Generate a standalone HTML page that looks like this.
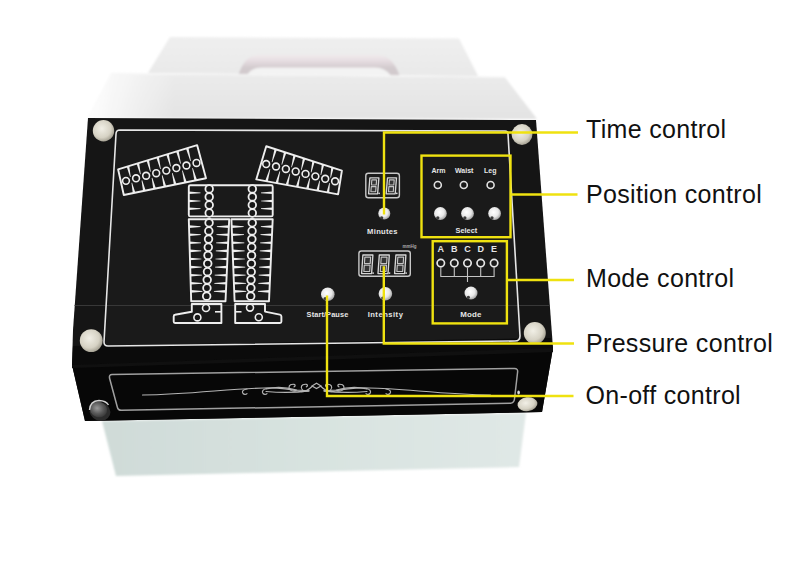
<!DOCTYPE html>
<html><head><meta charset="utf-8">
<style>
html,body{margin:0;padding:0;background:#fff;width:800px;height:561px;overflow:hidden}
svg{display:block}
text{font-family:"Liberation Sans",sans-serif}
</style></head>
<body>
<svg width="800" height="561" viewBox="0 0 800 561">
<defs>
  <linearGradient id="backg" x1="0" y1="0" x2="0" y2="1">
    <stop offset="0" stop-color="#efefef"/><stop offset="1" stop-color="#e9e9e9"/>
  </linearGradient>
  <linearGradient id="frontg" x1="0" y1="0" x2="0" y2="1">
    <stop offset="0" stop-color="#ebebeb"/><stop offset="1" stop-color="#e3e3e3"/>
  </linearGradient>
  <linearGradient id="lowg" x1="0" y1="0" x2="1" y2="0">
    <stop offset="0" stop-color="#cfdbd8"/><stop offset="0.5" stop-color="#d8e3e0"/><stop offset="1" stop-color="#e0e8e6"/>
  </linearGradient>
  <radialGradient id="screw" cx="0.42" cy="0.4" r="0.65">
    <stop offset="0" stop-color="#f1efe6"/><stop offset="0.65" stop-color="#d6d2c4"/><stop offset="1" stop-color="#9c988a"/>
  </radialGradient>
  <radialGradient id="knob" cx="0.42" cy="0.4" r="0.62">
    <stop offset="0" stop-color="#ffffff"/><stop offset="0.6" stop-color="#e8e8e8"/><stop offset="1" stop-color="#a0a0a0"/>
  </radialGradient>
  <radialGradient id="knob2" cx="0.4" cy="0.45" r="0.65">
    <stop offset="0" stop-color="#9a9a9a"/><stop offset="0.55" stop-color="#5a5a5a"/><stop offset="1" stop-color="#333"/>
  </radialGradient>
  <filter id="soft" x="-5%" y="-20%" width="110%" height="140%"><feGaussianBlur stdDeviation="0.8"/></filter>
  <filter id="soft3" x="-20%" y="-20%" width="140%" height="140%"><feGaussianBlur stdDeviation="3"/></filter>
  <linearGradient id="fadeL" gradientUnits="userSpaceOnUse" x1="92" y1="0" x2="175" y2="0">
    <stop offset="0" stop-color="#fff" stop-opacity="0.9"/><stop offset="0.5" stop-color="#fff" stop-opacity="0.45"/><stop offset="1" stop-color="#fff" stop-opacity="0"/>
  </linearGradient>
  <clipPath id="frontclip"><polygon points="111,74 505,77.5 537,119 88,118"/></clipPath>
  <linearGradient id="handleg" gradientUnits="userSpaceOnUse" x1="0" y1="55" x2="0" y2="68">
    <stop offset="0" stop-color="#f0eaec"/><stop offset="0.45" stop-color="#e6dde1"/><stop offset="1" stop-color="#d2cacd"/>
  </linearGradient>
</defs>

<g filter="url(#soft)">
<polygon points="170,37 459,38.5 478,76 148,73" fill="url(#backg)"/>
<path d="M247,75.5 Q251,67.5 262,67 L375,67 Q385,67.5 391,75.5 Z" fill="#f3f3f3"/>
<path d="M238.5,75 Q244,56.5 257,55 L379,55 Q393,56.5 399.5,75.5 L391,75.5 Q385,67.5 375,67.5 L262,67.5 Q251,67.5 247,75 Z" fill="url(#handleg)"/>
<polygon points="111,74 505,77.5 537,119 88,118" fill="url(#frontg)"/>
<line x1="111" y1="73.5" x2="505" y2="77" stroke="#f6f6f6" stroke-width="1.2"/>
<rect x="80" y="60" width="110" height="62" fill="url(#fadeL)" clip-path="url(#frontclip)"/>
</g>
<polygon points="102,421 526,413 519,467 116,476" fill="url(#lowg)" filter="url(#soft)"/>

<polygon points="88,118 536,120 553,348 542,412 85,421 72,365 73,330" fill="#151515"/>
<polygon points="117,131 507,131.5 520,340 105,346" fill="#1a1a1a"/>
<polygon points="72,365 553,348 542,412 85,421" fill="#070707"/>
<polygon points="73,346 551,338 553,348 72,365" fill="#0b0b0b"/>
<polygon points="72,365 553,348 553,352 72,368" fill="#101010"/>
<line x1="74.5" y1="305.5" x2="549" y2="305.5" stroke="#3c3c3c" stroke-width="0.9"/>
<path d="M120,130 L505,131 Q508,131 508,134 L520,336 Q520,341 515,341 L108,346 Q104,346 104,342 L116,134 Q116,130 120,130 Z" fill="none" stroke="#e6e6e6" stroke-width="1.6"/>
<path d="M112,374.5 L514.5,368.5 Q518,368.5 517.6,372 L514.5,399 Q514,403 510.5,403.2 L121.5,410.3 Q118,410.3 117.3,407 L109.5,378 Q109,374.5 112,374.5 Z" fill="none" stroke="#a0a0a0" stroke-width="1.5"/>

<polygon points="118.1,169.3 197.1,145.1 206,178.2 123.8,195" fill="none" stroke="#eeeeee" stroke-width="1.9" stroke-linejoin="round"/>
<polygon points="126.72,166.66 129.23,165.89 130.73,176.84 130.1,177.01" fill="#eeeeee"/>
<polygon points="132.77,193.17 135.38,192.63 132.08,182.7 131.44,182.86" fill="#eeeeee"/>
<polygon points="136.6,163.63 139.1,162.87 140.77,174.19 140.13,174.35" fill="#eeeeee"/>
<polygon points="143.05,191.07 145.65,190.53 142.2,180.25 141.56,180.41" fill="#eeeeee"/>
<polygon points="146.47,160.61 148.98,159.84 150.8,171.53 150.17,171.7" fill="#eeeeee"/>
<polygon points="153.32,188.97 155.93,188.43 152.32,177.8 151.68,177.96" fill="#eeeeee"/>
<polygon points="156.35,157.58 158.85,156.82 160.84,168.88 160.2,169.04" fill="#eeeeee"/>
<polygon points="163.6,186.87 166.2,186.33 162.45,175.35 161.81,175.51" fill="#eeeeee"/>
<polygon points="166.22,154.56 168.73,153.79 170.87,166.22 170.24,166.39" fill="#eeeeee"/>
<polygon points="173.87,184.77 176.48,184.23 172.57,172.9 171.93,173.05" fill="#eeeeee"/>
<polygon points="176.1,151.53 178.6,150.77 180.91,163.57 180.27,163.73" fill="#eeeeee"/>
<polygon points="184.15,182.67 186.75,182.13 182.69,170.45 182.05,170.6" fill="#eeeeee"/>
<polygon points="185.97,148.51 188.48,147.74 190.94,160.91 190.31,161.08" fill="#eeeeee"/>
<polygon points="194.42,180.57 197.03,180.03 192.82,168 192.17,168.15" fill="#eeeeee"/>
<circle cx="125.99" cy="180.87" r="3.4" fill="none" stroke="#eeeeee" stroke-width="1.6"/>
<circle cx="136.06" cy="178.31" r="3.4" fill="none" stroke="#eeeeee" stroke-width="1.6"/>
<circle cx="146.14" cy="175.74" r="3.4" fill="none" stroke="#eeeeee" stroke-width="1.6"/>
<circle cx="156.21" cy="173.18" r="3.4" fill="none" stroke="#eeeeee" stroke-width="1.6"/>
<circle cx="166.29" cy="170.62" r="3.4" fill="none" stroke="#eeeeee" stroke-width="1.6"/>
<circle cx="176.36" cy="168.06" r="3.4" fill="none" stroke="#eeeeee" stroke-width="1.6"/>
<circle cx="186.44" cy="165.49" r="3.4" fill="none" stroke="#eeeeee" stroke-width="1.6"/>
<circle cx="196.51" cy="162.93" r="3.4" fill="none" stroke="#eeeeee" stroke-width="1.6"/>
<polygon points="266.25,146.25 341.9,170.6 338.1,194.4 256.25,179.4" fill="none" stroke="#eeeeee" stroke-width="1.9" stroke-linejoin="round"/>
<polygon points="274.51,148.91 276.91,149.68 272.33,162.17 271.71,162" fill="#eeeeee"/>
<polygon points="265.18,181.04 267.78,181.51 270.3,169.2 269.67,169.05" fill="#eeeeee"/>
<polygon points="283.96,151.95 286.36,152.72 282.09,164.74 281.47,164.58" fill="#eeeeee"/>
<polygon points="275.41,182.91 278.01,183.39 280.24,171.51 279.61,171.37" fill="#eeeeee"/>
<polygon points="293.42,155 295.82,155.77 291.86,167.32 291.24,167.16" fill="#eeeeee"/>
<polygon points="285.65,184.79 288.24,185.26 290.18,173.83 289.55,173.69" fill="#eeeeee"/>
<polygon points="302.88,158.04 305.27,158.81 301.62,169.9 301.01,169.73" fill="#eeeeee"/>
<polygon points="295.88,186.66 298.47,187.14 300.11,176.15 299.48,176.01" fill="#eeeeee"/>
<polygon points="312.33,161.08 314.73,161.85 311.39,172.47 310.77,172.31" fill="#eeeeee"/>
<polygon points="306.11,188.54 308.7,189.01 310.05,178.47 309.42,178.33" fill="#eeeeee"/>
<polygon points="321.79,164.13 324.19,164.9 321.16,175.05 320.54,174.89" fill="#eeeeee"/>
<polygon points="316.34,190.41 318.94,190.89 319.99,180.79 319.36,180.64" fill="#eeeeee"/>
<polygon points="331.24,167.17 333.64,167.94 330.92,177.63 330.3,177.46" fill="#eeeeee"/>
<polygon points="326.57,192.29 329.17,192.76 329.92,183.11 329.29,182.96" fill="#eeeeee"/>
<circle cx="266.17" cy="164.05" r="3.4" fill="none" stroke="#eeeeee" stroke-width="1.6"/>
<circle cx="276.02" cy="166.51" r="3.4" fill="none" stroke="#eeeeee" stroke-width="1.6"/>
<circle cx="285.86" cy="168.97" r="3.4" fill="none" stroke="#eeeeee" stroke-width="1.6"/>
<circle cx="295.7" cy="171.43" r="3.4" fill="none" stroke="#eeeeee" stroke-width="1.6"/>
<circle cx="305.55" cy="173.89" r="3.4" fill="none" stroke="#eeeeee" stroke-width="1.6"/>
<circle cx="315.39" cy="176.35" r="3.4" fill="none" stroke="#eeeeee" stroke-width="1.6"/>
<circle cx="325.23" cy="178.81" r="3.4" fill="none" stroke="#eeeeee" stroke-width="1.6"/>
<circle cx="335.08" cy="181.27" r="3.4" fill="none" stroke="#eeeeee" stroke-width="1.6"/>
<rect x="188.8" y="185.2" width="83.9" height="31.2" rx="1.5" fill="none" stroke="#eeeeee" stroke-width="1.9"/>
<polygon points="188.8,191.5 200.5,192.45 200.5,193.15 188.8,194.1" fill="#eeeeee"/>
<polygon points="272.7,191.5 261,192.45 261,193.15 272.7,194.1" fill="#eeeeee"/>
<polygon points="188.8,199.7 200.5,200.65 200.5,201.35 188.8,202.3" fill="#eeeeee"/>
<polygon points="272.7,199.7 261,200.65 261,201.35 272.7,202.3" fill="#eeeeee"/>
<polygon points="188.8,207.4 200.5,208.35 200.5,209.05 188.8,210" fill="#eeeeee"/>
<polygon points="272.7,207.4 261,208.35 261,209.05 272.7,210" fill="#eeeeee"/>
<circle cx="209.2" cy="188.9" r="3.8" fill="#181818" stroke="#eeeeee" stroke-width="1.8"/>
<circle cx="209.2" cy="196.9" r="3.8" fill="#181818" stroke="#eeeeee" stroke-width="1.8"/>
<circle cx="209.2" cy="205" r="3.8" fill="#181818" stroke="#eeeeee" stroke-width="1.8"/>
<circle cx="209.2" cy="213" r="3.8" fill="#181818" stroke="#eeeeee" stroke-width="1.8"/>
<circle cx="252.3" cy="188.9" r="3.8" fill="#181818" stroke="#eeeeee" stroke-width="1.8"/>
<circle cx="252.3" cy="196.9" r="3.8" fill="#181818" stroke="#eeeeee" stroke-width="1.8"/>
<circle cx="252.3" cy="205" r="3.8" fill="#181818" stroke="#eeeeee" stroke-width="1.8"/>
<circle cx="252.3" cy="213" r="3.8" fill="#181818" stroke="#eeeeee" stroke-width="1.8"/>
<path d="M188.8,219.2 H229.2 L225.5,301.2 H191.2 Z" fill="none" stroke="#eeeeee" stroke-width="1.9" stroke-linejoin="round"/>
<path d="M231.4,219.2 H272.7 L269,301.2 H234.6 Z" fill="none" stroke="#eeeeee" stroke-width="1.9" stroke-linejoin="round"/>
<polygon points="189.02,225.3 200.52,226.25 200.52,226.95 189.02,227.9" fill="#eeeeee"/>
<polygon points="228.87,225.3 216.87,226.25 216.87,226.95 228.87,227.9" fill="#eeeeee"/>
<polygon points="231.69,225.3 243.69,226.25 243.69,226.95 231.69,227.9" fill="#eeeeee"/>
<polygon points="272.37,225.3 260.87,226.25 260.87,226.95 272.37,227.9" fill="#eeeeee"/>
<polygon points="189.25,233.4 200.75,234.35 200.75,235.05 189.25,236" fill="#eeeeee"/>
<polygon points="228.5,233.4 216.5,234.35 216.5,235.05 228.5,236" fill="#eeeeee"/>
<polygon points="232,233.4 244,234.35 244,235.05 232,236" fill="#eeeeee"/>
<polygon points="272,233.4 260.5,234.35 260.5,235.05 272,236" fill="#eeeeee"/>
<polygon points="189.49,241.5 200.99,242.45 200.99,243.15 189.49,244.1" fill="#eeeeee"/>
<polygon points="228.14,241.5 216.14,242.45 216.14,243.15 228.14,244.1" fill="#eeeeee"/>
<polygon points="232.32,241.5 244.32,242.45 244.32,243.15 232.32,244.1" fill="#eeeeee"/>
<polygon points="271.64,241.5 260.14,242.45 260.14,243.15 271.64,244.1" fill="#eeeeee"/>
<polygon points="189.73,249.6 201.23,250.55 201.23,251.25 189.73,252.2" fill="#eeeeee"/>
<polygon points="227.77,249.6 215.77,250.55 215.77,251.25 227.77,252.2" fill="#eeeeee"/>
<polygon points="232.64,249.6 244.64,250.55 244.64,251.25 232.64,252.2" fill="#eeeeee"/>
<polygon points="271.27,249.6 259.77,250.55 259.77,251.25 271.27,252.2" fill="#eeeeee"/>
<polygon points="189.96,257.7 201.46,258.65 201.46,259.35 189.96,260.3" fill="#eeeeee"/>
<polygon points="227.4,257.7 215.4,258.65 215.4,259.35 227.4,260.3" fill="#eeeeee"/>
<polygon points="232.95,257.7 244.95,258.65 244.95,259.35 232.95,260.3" fill="#eeeeee"/>
<polygon points="270.9,257.7 259.4,258.65 259.4,259.35 270.9,260.3" fill="#eeeeee"/>
<polygon points="190.2,265.8 201.7,266.75 201.7,267.45 190.2,268.4" fill="#eeeeee"/>
<polygon points="227.04,265.8 215.04,266.75 215.04,267.45 227.04,268.4" fill="#eeeeee"/>
<polygon points="233.27,265.8 245.27,266.75 245.27,267.45 233.27,268.4" fill="#eeeeee"/>
<polygon points="270.54,265.8 259.04,266.75 259.04,267.45 270.54,268.4" fill="#eeeeee"/>
<polygon points="190.44,273.9 201.94,274.85 201.94,275.55 190.44,276.5" fill="#eeeeee"/>
<polygon points="226.67,273.9 214.67,274.85 214.67,275.55 226.67,276.5" fill="#eeeeee"/>
<polygon points="233.59,273.9 245.59,274.85 245.59,275.55 233.59,276.5" fill="#eeeeee"/>
<polygon points="270.17,273.9 258.67,274.85 258.67,275.55 270.17,276.5" fill="#eeeeee"/>
<polygon points="190.68,282 202.18,282.95 202.18,283.65 190.68,284.6" fill="#eeeeee"/>
<polygon points="226.31,282 214.31,282.95 214.31,283.65 226.31,284.6" fill="#eeeeee"/>
<polygon points="233.9,282 245.9,282.95 245.9,283.65 233.9,284.6" fill="#eeeeee"/>
<polygon points="269.81,282 258.31,282.95 258.31,283.65 269.81,284.6" fill="#eeeeee"/>
<polygon points="190.91,290.1 202.41,291.05 202.41,291.75 190.91,292.7" fill="#eeeeee"/>
<polygon points="225.94,290.1 213.94,291.05 213.94,291.75 225.94,292.7" fill="#eeeeee"/>
<polygon points="234.22,290.1 246.22,291.05 246.22,291.75 234.22,292.7" fill="#eeeeee"/>
<polygon points="269.44,290.1 257.94,291.05 257.94,291.75 269.44,292.7" fill="#eeeeee"/>
<circle cx="209.08" cy="222.8" r="3.8" fill="#181818" stroke="#eeeeee" stroke-width="1.8"/>
<circle cx="252.23" cy="222.8" r="3.8" fill="#181818" stroke="#eeeeee" stroke-width="1.8"/>
<circle cx="208.81" cy="230.95" r="3.8" fill="#181818" stroke="#eeeeee" stroke-width="1.8"/>
<circle cx="252.06" cy="230.95" r="3.8" fill="#181818" stroke="#eeeeee" stroke-width="1.8"/>
<circle cx="208.54" cy="239.1" r="3.8" fill="#181818" stroke="#eeeeee" stroke-width="1.8"/>
<circle cx="251.89" cy="239.1" r="3.8" fill="#181818" stroke="#eeeeee" stroke-width="1.8"/>
<circle cx="208.28" cy="247.25" r="3.8" fill="#181818" stroke="#eeeeee" stroke-width="1.8"/>
<circle cx="251.72" cy="247.25" r="3.8" fill="#181818" stroke="#eeeeee" stroke-width="1.8"/>
<circle cx="208.01" cy="255.4" r="3.8" fill="#181818" stroke="#eeeeee" stroke-width="1.8"/>
<circle cx="251.55" cy="255.4" r="3.8" fill="#181818" stroke="#eeeeee" stroke-width="1.8"/>
<circle cx="207.74" cy="263.55" r="3.8" fill="#181818" stroke="#eeeeee" stroke-width="1.8"/>
<circle cx="251.38" cy="263.55" r="3.8" fill="#181818" stroke="#eeeeee" stroke-width="1.8"/>
<circle cx="207.47" cy="271.7" r="3.8" fill="#181818" stroke="#eeeeee" stroke-width="1.8"/>
<circle cx="251.21" cy="271.7" r="3.8" fill="#181818" stroke="#eeeeee" stroke-width="1.8"/>
<circle cx="207.2" cy="279.85" r="3.8" fill="#181818" stroke="#eeeeee" stroke-width="1.8"/>
<circle cx="251.04" cy="279.85" r="3.8" fill="#181818" stroke="#eeeeee" stroke-width="1.8"/>
<circle cx="206.93" cy="288" r="3.8" fill="#181818" stroke="#eeeeee" stroke-width="1.8"/>
<circle cx="250.87" cy="288" r="3.8" fill="#181818" stroke="#eeeeee" stroke-width="1.8"/>
<circle cx="206.67" cy="296.15" r="3.8" fill="#181818" stroke="#eeeeee" stroke-width="1.8"/>
<circle cx="250.7" cy="296.15" r="3.8" fill="#181818" stroke="#eeeeee" stroke-width="1.8"/>
<path d="M191.8,304 H221.4 V323 H175 Q173.7,323 173.7,321.5 V316.5 Q173.7,315 175,314.8 L191.8,311.8 Z" fill="none" stroke="#eeeeee" stroke-width="1.9" stroke-linejoin="round"/>
<path d="M215,311.8 H221.4" stroke="#eeeeee" stroke-width="1.6"/>
<circle cx="206" cy="308" r="3.5" fill="#181818" stroke="#eeeeee" stroke-width="1.6"/>
<circle cx="197.4" cy="317.4" r="3.5" fill="#181818" stroke="#eeeeee" stroke-width="1.6"/>
<path d="M235.2,304 H265 L265,311.6 L279.8,314.6 Q281.4,315 281.4,316.5 V321.5 Q281.4,323 280,323 H235.2 Z" fill="none" stroke="#eeeeee" stroke-width="1.9" stroke-linejoin="round"/>
<path d="M235.2,311.8 H241.5" stroke="#eeeeee" stroke-width="1.6"/>
<circle cx="250" cy="307.6" r="3.5" fill="#181818" stroke="#eeeeee" stroke-width="1.6"/>
<circle cx="258.8" cy="317.2" r="3.5" fill="#181818" stroke="#eeeeee" stroke-width="1.6"/>
<rect x="365.8" y="173.2" width="33.6" height="24.6" rx="2.5" fill="#1c1c1c" stroke="#c8c8c8" stroke-width="1.4"/>
<polygon points="369.9,177.8 378.9,177.8 377.6,193.8 368.6,193.8" fill="none" stroke="#d6d6d6" stroke-width="1.35" stroke-linejoin="round"/>
<polygon points="371.83,179.9 376.63,179.9 376.21,185 371.42,185" fill="#343434" stroke="#c4c4c4" stroke-width="1.15" stroke-linejoin="round"/>
<polygon points="371.29,186.6 376.08,186.6 375.67,191.7 370.87,191.7" fill="#343434" stroke="#c4c4c4" stroke-width="1.15" stroke-linejoin="round"/>
<circle cx="379.14" cy="193.3" r="0.9" fill="#d6d6d6"/>
<polygon points="387.5,177.8 396.5,177.8 395.2,193.8 386.2,193.8" fill="none" stroke="#d6d6d6" stroke-width="1.35" stroke-linejoin="round"/>
<polygon points="389.43,179.9 394.23,179.9 393.81,185 389.01,185" fill="#343434" stroke="#c4c4c4" stroke-width="1.15" stroke-linejoin="round"/>
<polygon points="388.88,186.6 393.68,186.6 393.27,191.7 388.47,191.7" fill="#343434" stroke="#c4c4c4" stroke-width="1.15" stroke-linejoin="round"/>
<circle cx="396.74" cy="193.3" r="0.9" fill="#d6d6d6"/>
<rect x="358.9" y="251" width="51.4" height="25.2" rx="2.5" fill="#1c1c1c" stroke="#c8c8c8" stroke-width="1.4"/>
<polygon points="362.9,255 372.9,255 371.6,273.6 361.6,273.6" fill="none" stroke="#d6d6d6" stroke-width="1.35" stroke-linejoin="round"/>
<polygon points="364.85,257.1 370.65,257.1 370.21,263.5 364.41,263.5" fill="#343434" stroke="#c4c4c4" stroke-width="1.15" stroke-linejoin="round"/>
<polygon points="364.29,265.1 370.09,265.1 369.65,271.5 363.85,271.5" fill="#343434" stroke="#c4c4c4" stroke-width="1.15" stroke-linejoin="round"/>
<circle cx="373.13" cy="273.1" r="0.9" fill="#d6d6d6"/>
<polygon points="379.3,255 389.3,255 388,273.6 378,273.6" fill="none" stroke="#d6d6d6" stroke-width="1.35" stroke-linejoin="round"/>
<polygon points="381.25,257.1 387.05,257.1 386.61,263.5 380.81,263.5" fill="#343434" stroke="#c4c4c4" stroke-width="1.15" stroke-linejoin="round"/>
<polygon points="380.69,265.1 386.49,265.1 386.05,271.5 380.25,271.5" fill="#343434" stroke="#c4c4c4" stroke-width="1.15" stroke-linejoin="round"/>
<circle cx="389.53" cy="273.1" r="0.9" fill="#d6d6d6"/>
<polygon points="395.9,255 405.9,255 404.6,273.6 394.6,273.6" fill="none" stroke="#d6d6d6" stroke-width="1.35" stroke-linejoin="round"/>
<polygon points="397.85,257.1 403.65,257.1 403.21,263.5 397.41,263.5" fill="#343434" stroke="#c4c4c4" stroke-width="1.15" stroke-linejoin="round"/>
<polygon points="397.29,265.1 403.09,265.1 402.65,271.5 396.85,271.5" fill="#343434" stroke="#c4c4c4" stroke-width="1.15" stroke-linejoin="round"/>
<circle cx="406.13" cy="273.1" r="0.9" fill="#d6d6d6"/>
<text x="402.5" y="247.5" font-size="4.5" font-weight="bold" fill="#aaa">mmHg</text>
<circle cx="384.3" cy="213.5" r="6" fill="url(#knob)"/>
<circle cx="381.7" cy="217.8" r="1.6" fill="#3a3a3a"/>
<circle cx="440.4" cy="213.5" r="6.4" fill="url(#knob)"/>
<circle cx="437.8" cy="217.8" r="1.6" fill="#3a3a3a"/>
<circle cx="467.5" cy="213.5" r="6.4" fill="url(#knob)"/>
<circle cx="464.9" cy="217.8" r="1.6" fill="#3a3a3a"/>
<circle cx="494.6" cy="213.5" r="6.4" fill="url(#knob)"/>
<circle cx="492" cy="217.8" r="1.6" fill="#3a3a3a"/>
<circle cx="327.8" cy="294.2" r="6.8" fill="url(#knob)"/>
<circle cx="325.2" cy="298.5" r="1.6" fill="#3a3a3a"/>
<circle cx="385.4" cy="293.7" r="6.8" fill="url(#knob)"/>
<circle cx="382.8" cy="298" r="1.6" fill="#3a3a3a"/>
<circle cx="471" cy="293" r="6.5" fill="url(#knob)"/>
<circle cx="468.4" cy="297.3" r="1.6" fill="#3a3a3a"/>
<circle cx="437.8" cy="185" r="3.5" fill="none" stroke="#e0e0e0" stroke-width="1.6"/>
<circle cx="463.8" cy="185" r="3.5" fill="none" stroke="#e0e0e0" stroke-width="1.6"/>
<circle cx="490.6" cy="185" r="3.5" fill="none" stroke="#e0e0e0" stroke-width="1.6"/>
<circle cx="440.8" cy="263.1" r="3.7" fill="none" stroke="#e6e6e6" stroke-width="1.7"/>
<circle cx="454.3" cy="263.1" r="3.7" fill="none" stroke="#e6e6e6" stroke-width="1.7"/>
<circle cx="467.5" cy="263.1" r="3.7" fill="none" stroke="#e6e6e6" stroke-width="1.7"/>
<circle cx="480.7" cy="263.1" r="3.7" fill="none" stroke="#e6e6e6" stroke-width="1.7"/>
<circle cx="494.1" cy="263.1" r="3.7" fill="none" stroke="#e6e6e6" stroke-width="1.7"/>
<path d="M440.8,267.5 V276.5 H494.1 V267.5 M454.3,267.5 V276.5 M480.7,267.5 V276.5 M467.5,268 V282" fill="none" stroke="#c4c4c4" stroke-width="1.1"/>
<g fill="#e6e6e6" font-weight="bold" text-anchor="middle">
<text x="382.5" y="233.5" font-size="7.6" letter-spacing="0.3">Minutes</text>
<text x="327.5" y="317.2" font-size="7.4" letter-spacing="0.1">Start/Pause</text>
<text x="385.5" y="317.2" font-size="7.6" letter-spacing="0.5">Intensity</text>
<text x="438.4" y="172.8" font-size="7">Arm</text>
<text x="464.2" y="172.8" font-size="7">Waist</text>
<text x="490.3" y="172.8" font-size="7">Leg</text>
<text x="466.4" y="232.8" font-size="7.4">Select</text>
<text x="471" y="316.5" font-size="7.9" letter-spacing="0.2">Mode</text>
<text x="440.8" y="252.3" font-size="9">A</text>
<text x="454.3" y="252.3" font-size="9">B</text>
<text x="467.5" y="252.3" font-size="9">C</text>
<text x="480.7" y="252.3" font-size="9">D</text>
<text x="494.1" y="252.3" font-size="9">E</text>
</g>
<g fill="none" stroke="#b4b4b4" stroke-width="1.2" stroke-linecap="round">
<g id="ornL">
<path d="M142.5,395 C190,394.5 230,388.5 264,388 C280,387.6 292,389.5 300,391.5 C305,392.2 309,389.5 312,386.5"/>
<path d="M266,389 C275,386.5 286,387 297,390 L309,390.8"/>
<path d="M266,391.5 C280,392.8 296,392.8 309,390.8"/>
<path d="M247,389 C243,389.5 241.5,391.5 243,393.5 C244,394.6 246,394.6 247,393.6"/>
<path d="M267,388.5 C263,389 261.5,391.5 263,393.5 C264,394.6 266,394.6 267,393.6"/>
<path d="M296,391 C293,391.5 289.5,390.5 289,387.5 C289,385 291.5,384 294,384.3 C295.5,384.6 295.5,386.5 294,386.8"/>
<path d="M308.3,391 C305.3,391.5 301.8,390.5 301.3,387.5 C301.3,385 303.8,384 306.3,384.3 C307.8,384.6 307.8,386.5 306.3,386.8"/>
</g>
<use href="#ornL" transform="translate(633,0) scale(-1,1)"/>
<path d="M312,386 L316.5,383.3 L321,386 L316.5,388.6 Z"/>
</g>
<circle cx="103.5" cy="130.7" r="10.7" fill="url(#screw)"/>
<circle cx="522" cy="134.5" r="10.4" fill="url(#screw)"/>
<circle cx="91.2" cy="340.6" r="11.4" fill="url(#screw)"/>
<circle cx="534.8" cy="333" r="11" fill="url(#screw)"/>
<ellipse cx="527.5" cy="404.2" rx="10" ry="6.9" fill="url(#screw)" transform="rotate(-8 527.5 404.2)"/>
<ellipse cx="518.6" cy="392.5" rx="1.3" ry="2" fill="#ddd"/>
<ellipse cx="100" cy="411.5" rx="10.5" ry="9.2" fill="#2c2c2c" transform="rotate(20 100 411.5)"/>
<ellipse cx="98.5" cy="409.5" rx="8.8" ry="7.6" fill="url(#knob2)" transform="rotate(20 98.5 409.5)"/>
<path d="M89.5,410 Q90,401 99,400.5 Q106,400.8 108.5,405" fill="none" stroke="#d0d0d0" stroke-width="1.4"/>

<g stroke="#efe210" stroke-width="2.4" fill="none">
  <polyline points="384,214.5 384,132.5 578,132.5"/>
  <rect x="421.5" y="155.6" width="89" height="81.6"/>
  <line x1="510.5" y1="194.5" x2="577.5" y2="194.5"/>
  <rect x="432.7" y="241.2" width="74.2" height="82.2"/>
  <line x1="507" y1="280" x2="574" y2="280"/>
  <polyline points="383.8,266.3 383.8,343.5 574,343.5"/>
  <polyline points="327,295.5 327,396 573.5,396"/>
</g>
<g font-size="25" fill="#111" letter-spacing="0.32">
  <text x="586" y="138">Time control</text>
  <text x="586" y="203.3">Position control</text>
  <text x="586" y="287.2">Mode control</text>
  <text x="586" y="352.3">Pressure control</text>
  <text x="585.5" y="403.8">On-off control</text>
</g>
</svg>
</body></html>
